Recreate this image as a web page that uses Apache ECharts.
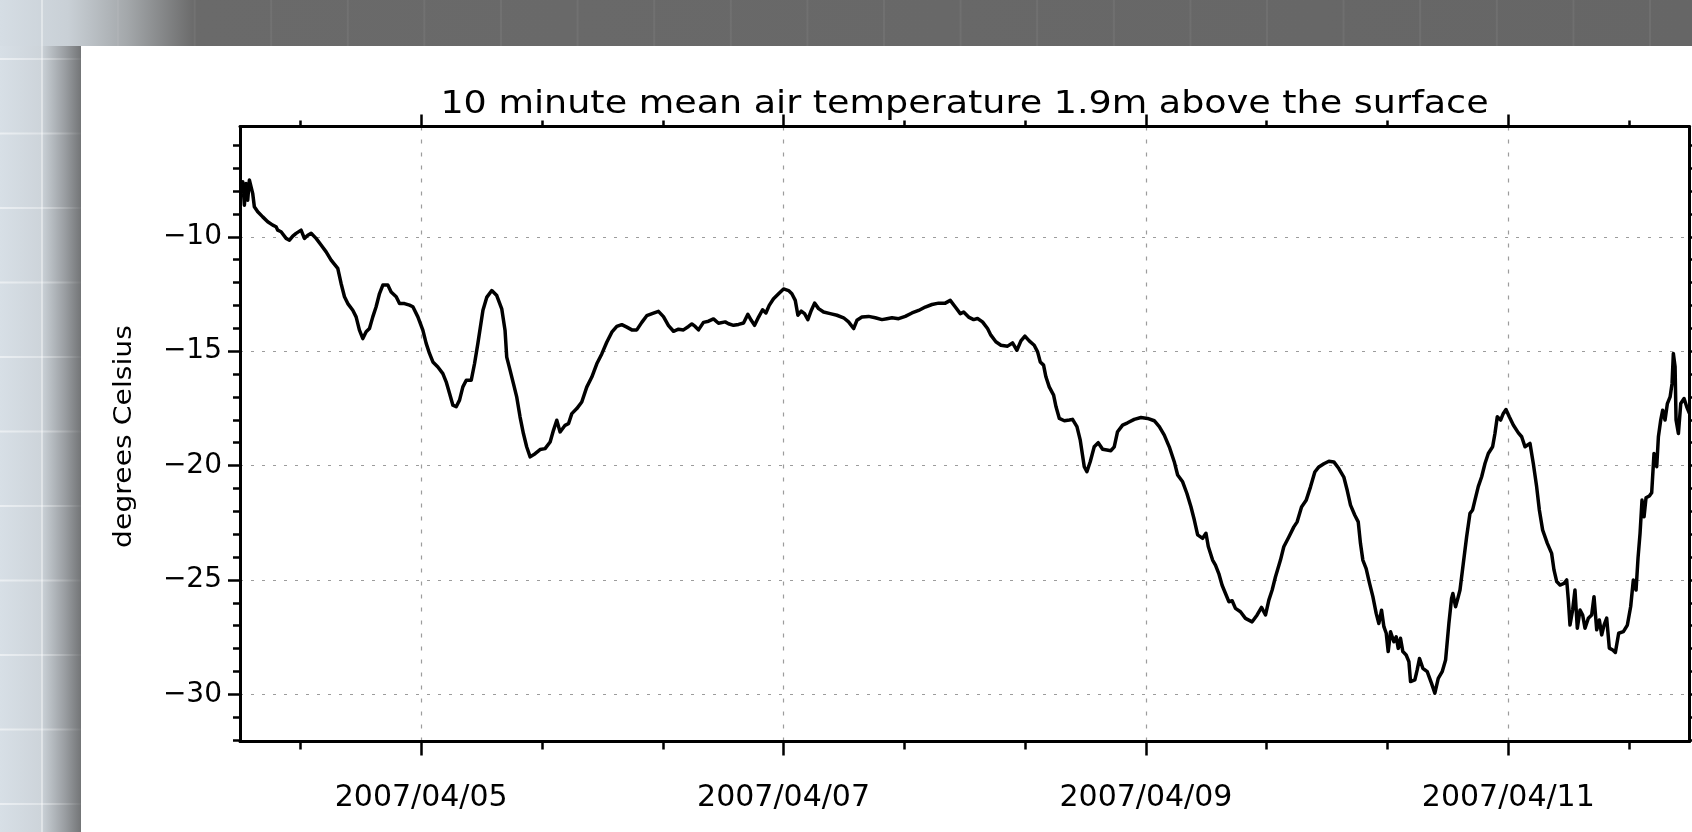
<!DOCTYPE html>
<html>
<head>
<meta charset="utf-8">
<title>10 minute mean air temperature</title>
<script src="https://cdn.jsdelivr.net/npm/echarts@6/dist/echarts.min.js"></script>
<style>
  html, body { margin: 0; padding: 0; background: #fff; }
  #chart { width: 1692px; height: 832px; }
</style>
</head>
<body>
<div id="chart"></div>
<script>
// hours since 2007/04/04 00:00
const hours = [
  0.14, 0.36, 0.58, 0.80, 1.02, 1.24, 1.46, 1.68, 1.90, 2.35, 3.01, 3.67, 4.34, 4.78, 5.00, 5.44, 6.11, 6.55, 6.99,
  7.43, 8.09, 8.53, 8.98, 9.42, 10.08, 10.74, 11.41, 12.07, 12.95, 13.39, 13.84, 14.28, 14.94, 15.38, 15.82, 16.27,
  16.71, 17.15, 17.59, 18.03, 18.48, 18.92, 19.58, 20.02, 20.69, 21.13, 21.79, 22.45, 22.90, 23.56, 24.22, 24.66,
  25.10, 25.55, 26.21, 26.87, 27.31, 27.76, 28.20, 28.64, 29.08, 29.52, 29.97, 30.63, 31.07, 31.51, 32.18,
  32.68, 33.35, 34.01, 34.67, 35.11, 35.33, 35.78, 36.22, 36.66, 37.10, 37.54, 37.98, 38.43, 39.09, 39.75, 40.41,
  41.08, 41.52, 41.96, 42.40, 43.06, 43.51, 43.95, 44.61, 45.27, 45.93, 46.60, 47.26, 47.92, 48.58, 49.25, 49.91,
  50.57, 51.24, 51.90, 52.56, 53.22, 53.88, 54.77, 55.43, 56.09, 56.76, 57.42, 58.08, 58.74, 59.41, 59.85, 60.29,
  60.73, 61.39, 62.06, 62.72, 63.38,
  64.27, 64.71, 65.37, 66.04, 66.70, 67.27, 67.72, 68.16, 68.69, 69.22, 69.66, 70.10, 70.67, 71.34, 72.00, 72.66,
  73.10, 73.55, 73.90, 74.34, 74.78, 75.22, 75.67, 76.11, 76.64, 77.30, 78.18, 79.07, 79.95, 80.61, 81.28, 81.72,
  82.38, 83.26, 84.15, 85.03, 85.69, 86.36, 87.24, 88.12, 89.01, 89.89, 90.77, 91.66, 92.54, 93.42, 94.08, 94.75,
  95.41, 95.85, 96.51, 97.18,
  97.69, 98.35, 99.02, 99.46, 100.12, 100.79, 101.67, 102.33, 102.91, 103.44, 103.97, 104.54, 105.20, 105.65,
  106.00, 106.44, 106.75, 107.19, 107.77, 108.09, 108.53, 109.19, 109.86, 110.28, 110.86, 111.30, 111.83, 112.18,
  112.62, 113.15, 113.68, 114.26, 114.83, 115.36, 115.80, 116.24, 116.91, 117.57, 118.45, 119.34, 120.22, 121.10,
  121.77, 122.43, 123.09, 123.75, 124.20, 124.86, 125.43, 125.96, 126.41, 126.85, 127.51, 127.95, 128.26, 128.83,
  129.21, 129.65, 130.09, 130.54, 130.98, 131.42, 131.86, 132.52, 133.18, 134.07, 134.73, 135.31, 135.84, 136.28,
  136.72, 137.16, 137.82, 138.26, 138.93, 139.59, 140.03, 140.61, 141.22, 141.80, 142.37, 142.90, 143.57, 144.23,
  144.89, 145.55, 146.21, 146.66, 147.10, 147.67, 148.12, 148.42, 148.73, 149.17, 149.62, 150.06, 150.50, 150.85,
  151.21, 151.52, 151.83, 152.09, 152.40, 152.84, 153.15, 153.42, 153.72, 154.03, 154.47, 154.83, 155.05, 155.62,
  155.93, 156.24, 156.68, 157.26, 157.83, 158.27, 158.72, 159.24, 159.69, 160.13, 160.48, 160.66, 161.01, 161.37,
  161.60, 162.04, 162.48, 162.92, 163.27, 163.58, 164.02, 164.47, 164.91, 165.35, 165.92, 166.23, 166.54, 166.98,
  167.34, 167.69, 168.13, 168.66, 169.33, 169.77, 170.21, 170.87, 171.31, 171.75, 172.11, 172.55, 173.17, 173.74,
  174.05, 174.41, 174.85, 175.38, 175.73, 175.95, 176.17, 176.52, 176.83, 177.14, 177.50, 177.85, 178.16, 178.60,
  179.04, 179.35, 179.71, 180.06, 180.37, 180.68, 181.03, 181.38, 181.83, 182.18, 182.62, 183.24, 183.77, 184.21,
  184.56, 184.92, 185.18, 185.45, 185.71, 185.98, 186.24, 186.68, 186.99, 187.30, 187.66, 187.88, 188.19, 188.45,
  188.76, 189.07, 189.43, 189.69, 189.86, 190.09, 190.22, 190.53, 190.84, 191.28, 191.63, 191.99
];

// degrees Celsius, same order as hours
const temps = [
  -8.10, -7.59, -8.62, -7.67, -8.40, -7.52, -7.45, -8.10, -8.69, -8.91, -9.13, -9.34, -9.49, -9.56, -9.71, -9.78, -10.07, -10.15, -9.97,
  -9.85, -9.71, -10.07, -9.93, -9.85, -10.07, -10.36, -10.66, -11.02, -11.38, -12.04, -12.62, -12.92, -13.21, -13.50, -14.08, -14.45,
  -14.15, -14.01, -13.50, -13.06, -12.48, -12.11, -12.11, -12.41, -12.62, -12.92, -12.92, -12.99, -13.06, -13.50, -14.08, -14.66,
  -15.10, -15.47, -15.69, -15.98, -16.34, -16.85, -17.36, -17.43, -17.14, -16.56, -16.27, -16.27, -15.54, -14.66, -13.21,
  -12.65, -12.35, -12.57, -13.15, -14.10, -15.26, -15.84, -16.42, -17.01, -17.88, -18.60, -19.19, -19.62, -19.48, -19.30, -19.26,
  -18.97, -18.46, -18.02, -18.53, -18.24, -18.17, -17.73, -17.51, -17.22, -16.57, -16.13, -15.55, -15.12, -14.61, -14.17, -13.92,
  -13.84, -13.95, -14.07, -14.07, -13.74, -13.45, -13.34, -13.26, -13.49, -13.88, -14.13, -14.04, -14.07, -13.92, -13.81, -13.92,
  -14.07, -13.74, -13.69, -13.59, -13.78,
  -13.72, -13.80, -13.87, -13.83, -13.77, -13.39, -13.65, -13.87, -13.51, -13.19, -13.33, -13.00, -12.71, -12.49, -12.28, -12.35,
  -12.49, -12.78, -13.43, -13.25, -13.36, -13.62, -13.22, -12.90, -13.14, -13.29, -13.36, -13.43, -13.54, -13.72, -14.01, -13.65,
  -13.51, -13.48, -13.54, -13.62, -13.58, -13.54, -13.58, -13.48, -13.33, -13.22, -13.07, -12.96, -12.90, -12.90, -12.78, -13.07,
  -13.36, -13.29, -13.51, -13.62,
  -13.57, -13.72, -14.01, -14.30, -14.59, -14.74, -14.78, -14.64, -14.96, -14.55, -14.34, -14.55, -14.74, -15.03,
  -15.47, -15.61, -16.12, -16.56, -16.92, -17.43, -17.94, -18.04, -18.01, -17.98, -18.30, -18.89, -20.05, -20.27,
  -19.83, -19.18, -19.00, -19.29, -19.32, -19.35, -19.18, -18.52, -18.23, -18.13, -17.98, -17.90, -17.94, -18.04,
  -18.30, -18.67, -19.18, -19.83, -20.41, -20.71, -21.22, -21.80, -22.38, -23.03, -23.18, -22.96, -23.54, -24.13,
  -24.35, -24.72, -25.23, -25.59, -25.95, -25.91, -26.24, -26.39, -26.68, -26.83, -26.53, -26.20, -26.53, -25.88,
  -25.44, -24.86, -24.13, -23.55, -23.12, -22.68, -22.46, -21.81, -21.52, -20.93, -20.28, -20.06, -19.92, -19.81,
  -19.84, -20.13, -20.50, -21.08, -21.73, -22.17, -22.46, -23.41, -24.13, -24.50, -25.15, -25.73, -26.46, -26.90,
  -26.32, -27.04, -27.33, -28.13, -27.26, -27.70, -27.48, -27.99, -27.55, -28.13, -28.28, -28.57, -29.44, -29.37,
  -28.93, -28.43, -28.86, -29.01, -29.52, -29.95, -29.30, -29.01, -28.50, -26.90, -25.81, -25.59, -26.17, -25.73,
  -25.44, -24.27, -23.11, -22.09, -21.94, -21.51, -20.92, -20.49, -19.91, -19.47, -19.18, -18.60, -17.87, -18.01,
  -17.72, -17.55, -17.87, -18.23, -18.57, -18.74, -19.18, -19.03, -19.91, -20.92, -21.94, -22.82, -23.40, -23.84,
  -24.56, -25.07, -25.22, -25.15, -25.00, -25.87, -26.97, -26.31, -25.44, -27.11, -26.31, -26.53, -27.11, -26.67,
  -26.53, -25.73, -27.18, -26.75, -27.40, -26.97, -26.67, -27.98, -28.06, -28.17, -27.33, -27.26, -26.97, -26.16,
  -25.00, -25.44, -24.05, -22.96, -21.51, -22.24, -21.41, -21.33, -21.19, -19.47, -20.05, -18.74, -18.01, -17.58,
  -18.01, -17.29, -17.00, -16.41, -15.10, -15.68, -18.01, -18.60, -17.29, -17.07, -17.43, -17.72
];

const dateLabels = ['2007/04/05', '2007/04/07', '2007/04/09', '2007/04/11'];
const tempTicks = [-30, -25, -20, -15, -10];
const titleText = '10 minute mean air temperature 1.9m above the surface';
const yName = 'degrees Celsius';

const font = 'DejaVu Sans';
const plotLeft = 240, plotTop = 126.5, plotW = 1449.5, plotH = 615;
const yMax = -5.18, yMin = -32.06;
const pxPerHour = plotW / 192;
const yPx = v => plotTop + (yMax - v) / (yMax - yMin) * plotH;

const gridLine = { color: '#9c9c9c', width: 1.2 };

// decoration around the white panel
const deco = [
  { type: 'rect', z: -10, shape: { x: 0, y: 0, width: 1692, height: 46 },
    style: { fill: { type: 'linear', x: 0, y: 0, x2: 1, y2: 0, colorStops: [
      { offset: 0, color: '#d5dde4' }, { offset: 0.04, color: '#c9d0d6' },
      { offset: 0.075, color: '#a4a8ab' }, { offset: 0.115, color: '#6a6a6a' }, { offset: 1, color: '#666666' }] } } },
  { type: 'rect', z: -10, shape: { x: 0, y: 46, width: 81, height: 786 },
    style: { fill: { type: 'linear', x: 0, y: 0, x2: 1, y2: 0, colorStops: [
      { offset: 0, color: '#d7dfe6' }, { offset: 0.5, color: '#cdd4da' }, { offset: 0.62, color: '#b9bfc4' },
      { offset: 0.8, color: '#9a9ea2' }, { offset: 1, color: '#737577' }] } } },
  { type: 'rect', z: -9, shape: { x: 41, y: 0, width: 2, height: 832 },
    style: { fill: 'rgba(255,255,255,0.4)' } }
];
for (let y = 58; y < 832; y += 74.5) {
  deco.push({ type: 'rect', z: -9, shape: { x: 0, y: y, width: 81, height: 2 },
    style: { fill: { type: 'linear', x: 0, y: 0, x2: 1, y2: 0, colorStops: [
      { offset: 0, color: 'rgba(255,255,255,0.5)' }, { offset: 0.6, color: 'rgba(255,255,255,0.3)' },
      { offset: 1, color: 'rgba(255,255,255,0.03)' }] } } });
}
for (let x = 117; x < 1692; x += 76.6) {
  deco.push({ type: 'rect', z: -9, shape: { x: x, y: 0, width: 2, height: 46 },
    style: { fill: 'rgba(255,255,255,0.06)' } });
}

const myChart = echarts.init(document.getElementById('chart'));

const frameLine = { show: true, onZero: false, lineStyle: { color: '#000', width: 3 } };
const noLine = { show: false, onZero: false };

myChart.setOption({
  backgroundColor: '#ffffff',
  animation: false,
  graphic: deco.concat([
    { type: 'text', x: 964.5, y: 105, scaleX: 1.14,
      style: { text: titleText, fontFamily: font, fontSize: 32, fill: '#000', align: 'center', verticalAlign: 'middle' } },
    { type: 'text', x: 124, y: 436.5, rotation: Math.PI / 2, scaleX: 1.13,
      style: { text: yName, fontFamily: font, fontSize: 25, fill: '#000', align: 'center', verticalAlign: 'middle' } }
  ]),
  grid: [
    // data
    { left: plotLeft, top: plotTop, width: plotW, height: plotH },
    // y minor ticks, -32 .. -6
    { left: plotLeft, top: yPx(-6), width: plotW, height: yPx(-32) - yPx(-6) },
    // y major ticks, -30 .. -10
    { left: plotLeft, top: yPx(-10), width: plotW, height: yPx(-30) - yPx(-10) },
    // x major ticks, 04/05 .. 04/11
    { left: plotLeft + 24 * pxPerHour, top: plotTop, width: 144 * pxPerHour, height: plotH },
    // x minor ticks, every 16 hours from 08:00
    { left: plotLeft + 8 * pxPerHour, top: plotTop, width: 176 * pxPerHour, height: plotH }
  ],
  xAxis: [
    { gridIndex: 0, type: 'value', position: 'bottom', min: 0, max: 192, axisLine: frameLine,
      axisTick: { show: false }, axisLabel: { show: false }, splitLine: { show: false } },
    { gridIndex: 0, type: 'value', position: 'top', min: 0, max: 192, axisLine: frameLine,
      axisTick: { show: false }, axisLabel: { show: false }, splitLine: { show: false } },
    { gridIndex: 1, type: 'value', show: false, min: 0, max: 1 },
    { gridIndex: 2, type: 'value', show: false, min: 0, max: 1 },
    { gridIndex: 3, type: 'value', position: 'bottom', min: 0, max: 6, interval: 2, axisLine: noLine,
      axisTick: { length: 14, lineStyle: { color: '#000', width: 2.5 } },
      axisLabel: { margin: 42, fontFamily: font, fontSize: 30, color: '#000',
        formatter: v => dateLabels[Math.round(v / 2)] },
      splitLine: { show: true, lineStyle: Object.assign({ type: [4, 9] }, gridLine) } },
    { gridIndex: 3, type: 'value', position: 'top', min: 0, max: 6, interval: 2, axisLine: noLine,
      axisTick: { length: 12, lineStyle: { color: '#000', width: 2.5 } },
      axisLabel: { show: false }, splitLine: { show: false } },
    { gridIndex: 4, type: 'value', position: 'bottom', min: 0, max: 176, interval: 16, axisLine: noLine,
      axisTick: { length: 8, lineStyle: { color: '#000', width: 2.5 } },
      axisLabel: { show: false }, splitLine: { show: false } },
    { gridIndex: 4, type: 'value', position: 'top', min: 0, max: 176, interval: 16, axisLine: noLine,
      axisTick: { length: 6, lineStyle: { color: '#000', width: 2.5 } },
      axisLabel: { show: false }, splitLine: { show: false } }
  ],
  yAxis: [
    { gridIndex: 0, type: 'value', position: 'left', min: yMin, max: yMax, axisLine: frameLine,
      axisTick: { show: false }, axisLabel: { show: false }, splitLine: { show: false } },
    { gridIndex: 0, type: 'value', position: 'right', min: yMin, max: yMax, axisLine: frameLine,
      axisTick: { show: false }, axisLabel: { show: false }, splitLine: { show: false } },
    { gridIndex: 1, type: 'value', position: 'left', min: -32, max: -6, interval: 1, axisLine: noLine,
      axisTick: { length: 7, lineStyle: { color: '#000', width: 2.5 } },
      axisLabel: { show: false }, splitLine: { show: false } },
    { gridIndex: 1, type: 'value', position: 'right', min: -32, max: -6, interval: 1, axisLine: noLine,
      axisTick: { length: 7, lineStyle: { color: '#000', width: 2.5 } },
      axisLabel: { show: false }, splitLine: { show: false } },
    { gridIndex: 2, type: 'value', position: 'left', min: -30, max: -10, interval: 5, axisLine: noLine,
      axisTick: { length: 12, lineStyle: { color: '#000', width: 2.5 } },
      axisLabel: { margin: 18, fontFamily: font, fontSize: 28, color: '#000',
        formatter: v => tempTicks.indexOf(v) >= 0 ? '\u2212' + Math.abs(v) : '' },
      splitLine: { show: true, lineStyle: Object.assign({ type: [3, 8] }, gridLine) } },
    { gridIndex: 2, type: 'value', position: 'right', min: -30, max: -10, interval: 5, axisLine: noLine,
      axisTick: { length: 12, lineStyle: { color: '#000', width: 2.5 } },
      axisLabel: { show: false }, splitLine: { show: false } },
    { gridIndex: 3, type: 'value', show: false, min: 0, max: 1 },
    { gridIndex: 4, type: 'value', show: false, min: 0, max: 1 }
  ],
  series: [
    {
      name: 'air temperature',
      type: 'line',
      xAxisIndex: 0,
      yAxisIndex: 0,
      data: hours.map((h, i) => [h, temps[i]]),
      showSymbol: false,
      symbol: 'none',
      z: 5,
      lineStyle: { color: '#000', width: 3.5, join: 'round' }
    }
  ]
});
</script>
</body>
</html>
